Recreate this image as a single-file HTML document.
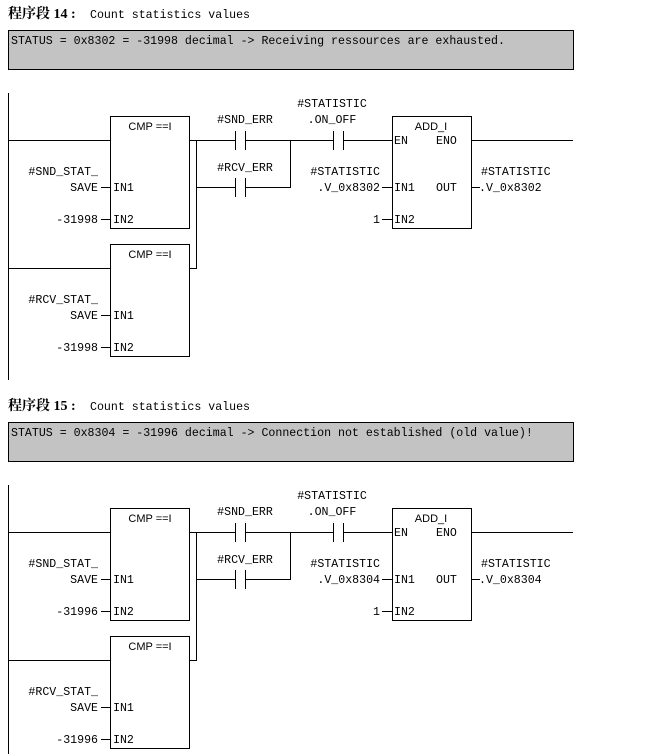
<!DOCTYPE html>
<html><head><meta charset="utf-8"><style>
html,body{margin:0;padding:0;background:#fff;}
svg{display:block;}
.m{font-family:"Liberation Mono",monospace;font-size:11.6px;fill:#000;}
.s{font-family:"Liberation Sans",sans-serif;font-size:11px;fill:#000;}
.t{font-family:"Liberation Serif","Noto Serif CJK SC",serif;font-size:14px;font-weight:bold;fill:#000;}
line,rect,polyline{stroke:#000;stroke-width:1;fill:none;shape-rendering:crispEdges;}
</style></head><body>
<svg width="655" height="754" viewBox="0 0 655 754" xmlns="http://www.w3.org/2000/svg">
<g>
<text x="8" y="18" class="t">程序段 14 :</text><text x="90" y="18" class="m">Count statistics values</text>
<rect x="8.5" y="30.5" width="565" height="39" style="fill:#c3c3c3"/>
<text x="11" y="44" class="m">STATUS = 0x8302 = -31998 decimal -&gt; Receiving ressources are exhausted.</text>
<line x1="8.5" y1="93" x2="8.5" y2="380"/>
<line x1="8" y1="140.5" x2="110" y2="140.5"/>
<rect x="110.5" y="116.5" width="79" height="112"/>
<text x="150" y="130" class="s" text-anchor="middle">CMP ==I</text>
<text x="113" y="191" class="m">IN1</text><text x="113" y="223" class="m">IN2</text>
<line x1="101" y1="187.5" x2="110" y2="187.5"/><line x1="101" y1="219.5" x2="110" y2="219.5"/>
<text x="98" y="175" class="m" text-anchor="end">#SND_STAT_</text>
<text x="98" y="191" class="m" text-anchor="end">SAVE</text>
<text x="98" y="223" class="m" text-anchor="end">-31998</text>
<polyline points="189,140.5 196.5,140.5 196.5,268.5 189,268.5"/>
<line x1="196" y1="140.5" x2="235" y2="140.5"/><line x1="246" y1="140.5" x2="333" y2="140.5"/><line x1="344" y1="140.5" x2="392" y2="140.5"/>
<line x1="196" y1="187.5" x2="235" y2="187.5"/><line x1="246" y1="187.5" x2="290.5" y2="187.5"/>
<line x1="290.5" y1="140" x2="290.5" y2="188"/>
<line x1="235.5" y1="131" x2="235.5" y2="150"/><line x1="245.5" y1="131" x2="245.5" y2="150"/>
<line x1="235.5" y1="178" x2="235.5" y2="197"/><line x1="245.5" y1="178" x2="245.5" y2="197"/>
<line x1="333.5" y1="131" x2="333.5" y2="150"/><line x1="343.5" y1="131" x2="343.5" y2="150"/>
<text x="245" y="123" class="m" text-anchor="middle">#SND_ERR</text>
<text x="245" y="171" class="m" text-anchor="middle">#RCV_ERR</text>
<text x="332" y="107" class="m" text-anchor="middle">#STATISTIC</text>
<text x="332" y="123" class="m" text-anchor="middle">.ON_OFF</text>
<rect x="392.5" y="116.5" width="79" height="112"/>
<text x="431" y="130" class="s" text-anchor="middle">ADD_I</text>
<text x="394" y="144" class="m">EN</text><text x="436" y="144" class="m">ENO</text>
<text x="394" y="191" class="m">IN1</text><text x="436" y="191" class="m">OUT</text>
<text x="394" y="223" class="m">IN2</text>
<line x1="471" y1="140.5" x2="573" y2="140.5"/>
<line x1="382" y1="187.5" x2="392" y2="187.5"/><line x1="382" y1="219.5" x2="392" y2="219.5"/>
<line x1="471" y1="187.5" x2="480" y2="187.5"/>
<text x="380" y="175" class="m" text-anchor="end">#STATISTIC</text>
<text x="380" y="191" class="m" text-anchor="end">.V_0x8302</text>
<text x="380" y="223" class="m" text-anchor="end">1</text>
<text x="481" y="175" class="m">#STATISTIC</text>
<text x="479" y="191" class="m">.V_0x8302</text>
<line x1="8" y1="268.5" x2="110" y2="268.5"/>
<rect x="110.5" y="244.5" width="79" height="112"/>
<text x="150" y="258" class="s" text-anchor="middle">CMP ==I</text>
<text x="113" y="319" class="m">IN1</text><text x="113" y="351" class="m">IN2</text>
<line x1="101" y1="315.5" x2="110" y2="315.5"/><line x1="101" y1="347.5" x2="110" y2="347.5"/>
<text x="98" y="303" class="m" text-anchor="end">#RCV_STAT_</text>
<text x="98" y="319" class="m" text-anchor="end">SAVE</text>
<text x="98" y="351" class="m" text-anchor="end">-31998</text>
</g>
<g transform="translate(0,392)">
<text x="8" y="18" class="t">程序段 15 :</text><text x="90" y="18" class="m">Count statistics values</text>
<rect x="8.5" y="30.5" width="565" height="39" style="fill:#c3c3c3"/>
<text x="11" y="44" class="m">STATUS = 0x8304 = -31996 decimal -&gt; Connection not established (old value)!</text>
<line x1="8.5" y1="93" x2="8.5" y2="380"/>
<line x1="8" y1="140.5" x2="110" y2="140.5"/>
<rect x="110.5" y="116.5" width="79" height="112"/>
<text x="150" y="130" class="s" text-anchor="middle">CMP ==I</text>
<text x="113" y="191" class="m">IN1</text><text x="113" y="223" class="m">IN2</text>
<line x1="101" y1="187.5" x2="110" y2="187.5"/><line x1="101" y1="219.5" x2="110" y2="219.5"/>
<text x="98" y="175" class="m" text-anchor="end">#SND_STAT_</text>
<text x="98" y="191" class="m" text-anchor="end">SAVE</text>
<text x="98" y="223" class="m" text-anchor="end">-31996</text>
<polyline points="189,140.5 196.5,140.5 196.5,268.5 189,268.5"/>
<line x1="196" y1="140.5" x2="235" y2="140.5"/><line x1="246" y1="140.5" x2="333" y2="140.5"/><line x1="344" y1="140.5" x2="392" y2="140.5"/>
<line x1="196" y1="187.5" x2="235" y2="187.5"/><line x1="246" y1="187.5" x2="290.5" y2="187.5"/>
<line x1="290.5" y1="140" x2="290.5" y2="188"/>
<line x1="235.5" y1="131" x2="235.5" y2="150"/><line x1="245.5" y1="131" x2="245.5" y2="150"/>
<line x1="235.5" y1="178" x2="235.5" y2="197"/><line x1="245.5" y1="178" x2="245.5" y2="197"/>
<line x1="333.5" y1="131" x2="333.5" y2="150"/><line x1="343.5" y1="131" x2="343.5" y2="150"/>
<text x="245" y="123" class="m" text-anchor="middle">#SND_ERR</text>
<text x="245" y="171" class="m" text-anchor="middle">#RCV_ERR</text>
<text x="332" y="107" class="m" text-anchor="middle">#STATISTIC</text>
<text x="332" y="123" class="m" text-anchor="middle">.ON_OFF</text>
<rect x="392.5" y="116.5" width="79" height="112"/>
<text x="431" y="130" class="s" text-anchor="middle">ADD_I</text>
<text x="394" y="144" class="m">EN</text><text x="436" y="144" class="m">ENO</text>
<text x="394" y="191" class="m">IN1</text><text x="436" y="191" class="m">OUT</text>
<text x="394" y="223" class="m">IN2</text>
<line x1="471" y1="140.5" x2="573" y2="140.5"/>
<line x1="382" y1="187.5" x2="392" y2="187.5"/><line x1="382" y1="219.5" x2="392" y2="219.5"/>
<line x1="471" y1="187.5" x2="480" y2="187.5"/>
<text x="380" y="175" class="m" text-anchor="end">#STATISTIC</text>
<text x="380" y="191" class="m" text-anchor="end">.V_0x8304</text>
<text x="380" y="223" class="m" text-anchor="end">1</text>
<text x="481" y="175" class="m">#STATISTIC</text>
<text x="479" y="191" class="m">.V_0x8304</text>
<line x1="8" y1="268.5" x2="110" y2="268.5"/>
<rect x="110.5" y="244.5" width="79" height="112"/>
<text x="150" y="258" class="s" text-anchor="middle">CMP ==I</text>
<text x="113" y="319" class="m">IN1</text><text x="113" y="351" class="m">IN2</text>
<line x1="101" y1="315.5" x2="110" y2="315.5"/><line x1="101" y1="347.5" x2="110" y2="347.5"/>
<text x="98" y="303" class="m" text-anchor="end">#RCV_STAT_</text>
<text x="98" y="319" class="m" text-anchor="end">SAVE</text>
<text x="98" y="351" class="m" text-anchor="end">-31996</text>
</g>
</svg>
</body></html>
